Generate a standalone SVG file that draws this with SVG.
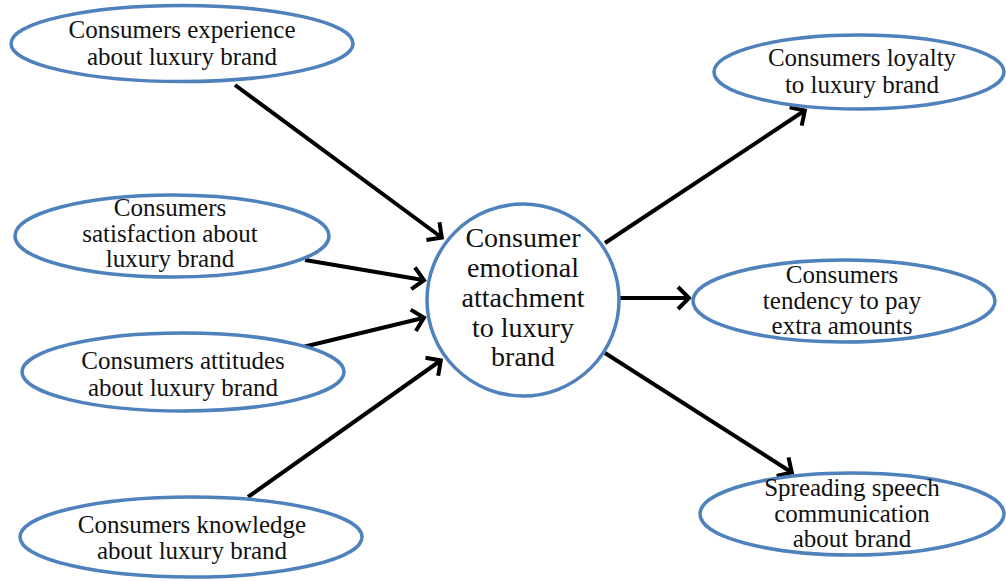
<svg xmlns="http://www.w3.org/2000/svg" width="1006" height="581" viewBox="0 0 1006 581">
<style>
.n{fill:#fff;stroke:#4f81bd;stroke-width:3.5}
.t{font-family:"Liberation Serif","Times New Roman",serif;font-size:25px;fill:#111;text-anchor:middle}
.c{font-size:28px}
.e{stroke:#000;stroke-width:4;fill:none;marker-end:url(#a)}
</style>
<defs>
<marker id="a" viewBox="0 0 22 22" refX="10" refY="11" markerWidth="22" markerHeight="22" orient="auto" markerUnits="userSpaceOnUse" overflow="visible">
<path d="M0,0 L11,11 L0,22" fill="none" stroke="#000" stroke-width="4"/>
</marker>
</defs>
<rect width="1006" height="581" fill="#fff"/>
<g id="connectors">
<line class="e" x1="235" y1="85" x2="441" y2="237"/>
<line class="e" x1="305" y1="260" x2="423" y2="280"/>
<line class="e" x1="303" y1="347" x2="423" y2="318"/>
<line class="e" x1="248" y1="497" x2="440" y2="361"/>
<line class="e" x1="605" y1="243" x2="804" y2="111"/>
<line class="e" x1="620" y1="298" x2="688" y2="298"/>
<line class="e" x1="605" y1="353" x2="791" y2="472"/>
</g>
<g id="n1"><ellipse class="n" cx="182" cy="43.5" rx="171" ry="38"/>
<text class="t" x="182" y="38">Consumers experience</text><text class="t" x="182" y="65">about luxury brand</text></g>
<g id="n2"><ellipse class="n" cx="172" cy="236" rx="157" ry="41"/>
<text class="t" x="170" y="216">Consumers</text><text class="t" x="170" y="242">satisfaction about</text><text class="t" x="170" y="267">luxury brand</text></g>
<g id="n3"><ellipse class="n" cx="183" cy="372" rx="161" ry="39"/>
<text class="t" x="183" y="369">Consumers attitudes</text><text class="t" x="183" y="396">about luxury brand</text></g>
<g id="n4"><ellipse class="n" cx="191" cy="537" rx="171" ry="40"/>
<text class="t" x="192" y="533">Consumers knowledge</text><text class="t" x="192" y="559">about luxury brand</text></g>
<g id="center"><circle class="n" cx="523" cy="300" r="96"/>
<text class="t c" x="523" y="247">Consumer</text><text class="t c" x="523" y="277">emotional</text><text class="t c" x="523" y="307">attachment</text><text class="t c" x="523" y="337">to luxury</text><text class="t c" x="523" y="366">brand</text></g>
<g id="r1"><ellipse class="n" cx="859" cy="72" rx="145" ry="37"/>
<text class="t" x="862" y="66">Consumers loyalty</text><text class="t" x="862" y="93">to luxury brand</text></g>
<g id="r2"><ellipse class="n" cx="844" cy="301" rx="151" ry="41"/>
<text class="t" x="842" y="283">Consumers</text><text class="t" x="842" y="309">tendency to pay</text><text class="t" x="842" y="334">extra amounts</text></g>
<g id="r3"><ellipse class="n" cx="852" cy="514" rx="152" ry="41"/>
<text class="t" x="852" y="496">Spreading speech</text><text class="t" x="852" y="522">communication</text><text class="t" x="852" y="547">about brand</text></g>
</svg>
